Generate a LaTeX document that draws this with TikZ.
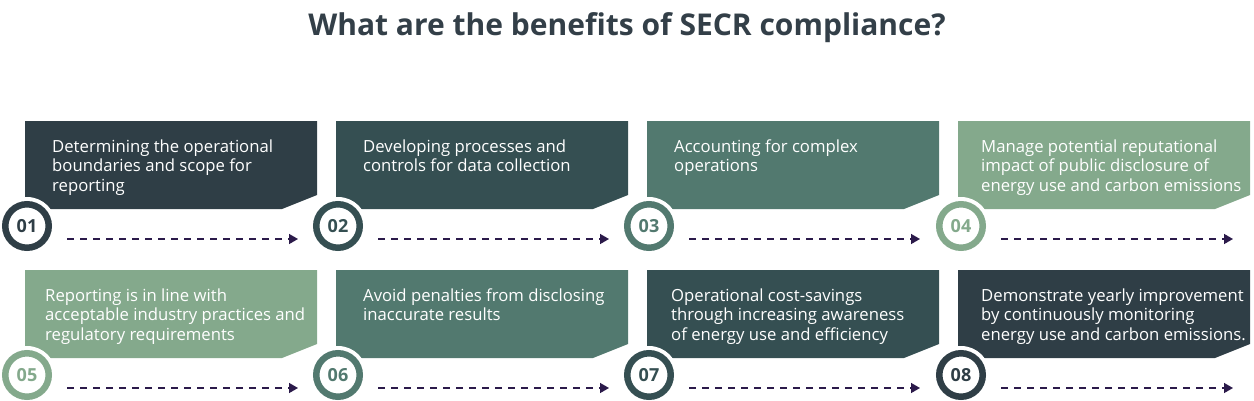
\documentclass[tikz,border=0pt]{standalone}
\usepackage{fontspec}
\setmainfont{Open Sans}
\usetikzlibrary{arrows.meta}
\definecolor{cA}{HTML}{2F3E46}
\definecolor{cB}{HTML}{354F52}
\definecolor{cC}{HTML}{52796F}
\definecolor{cD}{HTML}{84A98C}
\definecolor{arr}{HTML}{2B1A4A}
\definecolor{ttl}{HTML}{333F48}
\newcommand{\chamferbox}[3]{%
  \fill[#3] (#1,#2) -- ++(292,0) -- ++(0,74) -- ++(-35,14) -- ++(-257,0) -- cycle;}
\begin{document}
\begin{tikzpicture}[x=1pt,y=-1pt,
  boxtext/.style={anchor=north west,inner sep=0pt,align=left,text=white,
    font=\fontsize{16.7}{19.5}\selectfont},
  numcirc/.style={circle,draw=#1,line width=6.5pt,fill=white,minimum size=43.5pt,
    inner sep=0pt,text=#1,font=\bfseries\fontsize{18}{18}\selectfont},
  halo/.style={fill=white},
  flow/.style={draw=arr,line width=1.5pt,dash pattern=on 7pt off 6pt,
    -{Triangle[length=9pt,width=10pt]}}]
\useasboundingbox (0,0) rectangle (1254,400);
\node[anchor=center,text=ttl,font=\bfseries\fontsize{30}{34}\selectfont] (title) at (627,28) {What are the benefits of SECR compliance?};
% row 1 boxes
\chamferbox{25}{121}{cA}
\chamferbox{336}{121}{cB}
\chamferbox{647}{121}{cC}
\chamferbox{958}{121}{cD}
% row 2 boxes
\chamferbox{25}{270}{cD}
\chamferbox{336}{270}{cC}
\chamferbox{647}{270}{cB}
\chamferbox{958}{270}{cA}
% texts (first baseline at 152 / 301; strut height 13.65)
\node[boxtext] (t1) at (52,138.35) {\strut Determining the operational\\boundaries and scope for\\reporting};
\node[boxtext] (t2) at (363,138.35) {\strut Developing processes and\\controls for data collection};
\node[boxtext] (t3) at (674,138.35) {\strut Accounting for complex\\operations};
\node[boxtext] (t4) at (981,138.35) {\strut Manage potential reputational\\impact of public disclosure of\\energy use and carbon emissions};
\node[boxtext] (t5) at (45,287.35) {\strut Reporting is in line with\\acceptable industry practices and\\regulatory requirements};
\node[boxtext] (t6) at (363,287.35) {\strut Avoid penalties from disclosing\\inaccurate results};
\node[boxtext] (t7) at (671,287.35) {\strut Operational cost-savings\\through increasing awareness\\of energy use and efficiency};
\node[boxtext] (t8) at (981,287.35) {\strut Demonstrate yearly improvement\\by continuously monitoring\\energy use and carbon emissions.};
% halos
\foreach \x in {27,338,649,961}{
  \fill[halo] (\x,226) circle (29);
  \fill[halo] (\x,375) circle (29);}
% circles
\node[numcirc=cA] (n1) at (27,226) {01};
\node[numcirc=cB] (n2) at (338,226) {02};
\node[numcirc=cC] (n3) at (649,226) {03};
\node[numcirc=cD] (n4) at (961,226) {04};
\node[numcirc=cD] (n5) at (27,375) {05};
\node[numcirc=cC] (n6) at (338,375) {06};
\node[numcirc=cB] (n7) at (649,375) {07};
\node[numcirc=cA] (n8) at (961,375) {08};
% arrows
\coordinate (a1s) at (67,239);  \coordinate (a1e) at (298,239);
\coordinate (a2s) at (378,239); \coordinate (a2e) at (609,239);
\coordinate (a3s) at (689,239); \coordinate (a3e) at (920,239);
\coordinate (a4s) at (1001,239);\coordinate (a4e) at (1233,239);
\coordinate (a5s) at (67,388);  \coordinate (a5e) at (298,388);
\coordinate (a6s) at (378,388); \coordinate (a6e) at (609,388);
\coordinate (a7s) at (689,388); \coordinate (a7e) at (920,388);
\coordinate (a8s) at (1001,388);\coordinate (a8e) at (1233,388);
\foreach \i in {1,...,8}{\draw[flow] (a\i s) -- (a\i e);}
\end{tikzpicture}
\end{document}
